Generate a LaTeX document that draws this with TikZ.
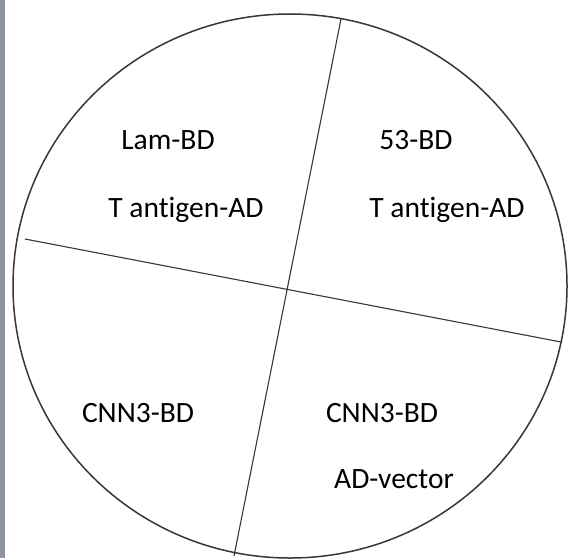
\documentclass[tikz,border=0pt]{standalone}
\usepackage{fontspec}
\setmainfont[Ligatures={NoCommon}]{Carlito}
\definecolor{stripgray}{RGB}{142,148,158}
\definecolor{linegray}{RGB}{55,55,55}
\tikzset{
  lbl/.style={anchor=base, inner sep=0pt, font=\fontsize{29.5}{32}\selectfont},
  plate/.style={draw=linegray, line width=1.5pt},
  divider/.style={draw=linegray, line width=1.1pt}
}
\begin{document}
\begin{tikzpicture}[x=1pt,y=1pt]
\useasboundingbox (0,0) rectangle (569,558);
\fill[white] (0,0) rectangle (569,558);
\fill[stripgray] (0,0) rectangle (5,558);
% plate
\draw[plate] (290,272) ellipse [x radius=277, y radius=272];
% dividers
\coordinate (t) at (341,539);
\coordinate (b) at (234,2);
\coordinate (l) at (25,319);
\coordinate (r) at (561,216);
\draw[divider] (t) -- (b);
\draw[divider] (l) -- (r);
% labels
\node[lbl] (lam) at (168,409) {Lam-BD};
\node[lbl] (tl) at (186,341) {T ant\kern0pt igen-AD};
\node[lbl] (p53) at (416,409) {53-BD};
\node[lbl] (tr) at (447,341) {T ant\kern0pt igen-AD};
\node[lbl] (cl) at (138,136) {CNN3-BD};
\node[lbl] (cr) at (382,136) {CNN3-BD};
\node[lbl] (adv) at (394,70) {AD-vector};
\end{tikzpicture}
\end{document}
